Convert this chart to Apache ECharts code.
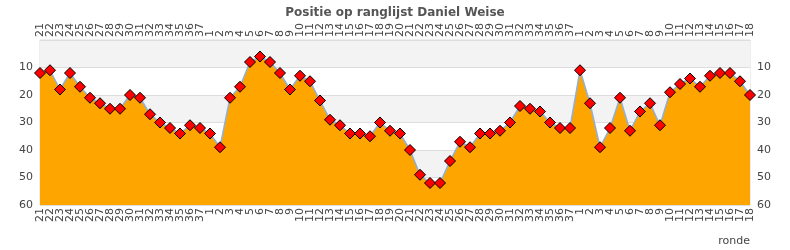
<!DOCTYPE html>
<html><head><meta charset="utf-8">
<script src="https://cdn.jsdelivr.net/npm/echarts@6/dist/echarts.min.js"></script>
<style>html,body{margin:0;padding:0;background:#fff}#c{width:790px;height:250px}</style>
</head><body><div id="c"></div>
<script>
const rounds = ['21','22','23','24','25','26','27','28','29','30','31','32','33','34','35','36','37',
 '1','2','3','4','5','6','7','8','9','10','11','12','13','14','15','16','17','18','19','20','21','22','23','24','25','26','27','28','29','30','31','32','33','34','35','36','37',
 '1','2','3','4','5','6','7','8','9','10','11','12','13','14','15','16','17','18'];
const positions = [12,11,18,12,17,21,23,25,25,20,21,27,30,32,34,31,32,
 34,39,21,17,8,6,8,12,18,13,15,22,29,31,34,34,35,30,33,34,40,49,52,52,44,37,39,34,34,33,30,24,25,26,30,32,32,
 11,23,39,32,21,33,26,23,31,19,16,14,17,13,12,12,15,20];
const yTicks = [0,10,20,30,40,50,60];
const titleText = 'Positie op ranglijst Daniel Weise';
const axisName = 'ronde';

const chart = echarts.init(document.getElementById('c'), null, {renderer:'canvas'});
const font = 'DejaVu Sans';
const xLabel = {rotate:90, fontSize:11, color:'#444', fontFamily:font, interval:0, margin:3};
const yLabel = {fontSize:11, color:'#444', fontFamily:font, margin:7,
  formatter: v => (v === yTicks[0] ? '' : String(v))};
chart.setOption({
  animation:false,
  title:{text:titleText, left:'center', top:2, textStyle:{fontSize:12, fontWeight:'bold', color:'#555', fontFamily:font}},
  grid:{left:40, right:40, top:40, bottom:45, show:true, borderColor:'#ddd', borderWidth:1, backgroundColor:'transparent'},
  graphic:[{type:'text', right:40, bottom:3, style:{text:axisName, fontSize:11, fill:'#444', fontFamily:font}}],
  xAxis:[
    {type:'category', data:rounds, boundaryGap:false, position:'bottom', axisLine:{show:false}, axisTick:{show:false}, axisLabel:xLabel, splitLine:{show:false}},
    {type:'category', data:rounds, boundaryGap:false, position:'top', axisLine:{show:false}, axisTick:{show:false}, axisLabel:xLabel, splitLine:{show:false}}
  ],
  yAxis:[
    {type:'value', inverse:true, min:yTicks[0], max:yTicks[yTicks.length-1], interval:10, position:'left',
     axisLine:{show:false}, axisTick:{show:false}, axisLabel:yLabel,
     splitLine:{show:true, lineStyle:{color:'#ddd', width:1}},
     splitArea:{show:true, areaStyle:{color:['#f3f3f3','#ffffff']}}},
    {type:'value', inverse:true, min:yTicks[0], max:yTicks[yTicks.length-1], interval:10, position:'right',
     axisLine:{show:false}, axisTick:{show:false}, axisLabel:yLabel, splitLine:{show:false}, splitArea:{show:false}}
  ],
  series:[{
    type:'line', data:positions, xAxisIndex:0, yAxisIndex:0,
    symbol:'diamond', symbolSize:11, showAllSymbol:true,
    itemStyle:{color:'#ff0000', borderColor:'#000', borderWidth:1},
    lineStyle:{color:'#8fb0d8', width:1.5},
    areaStyle:{color:'#ffa500', opacity:1, origin:'end'}
  }]
});
</script></body></html>
